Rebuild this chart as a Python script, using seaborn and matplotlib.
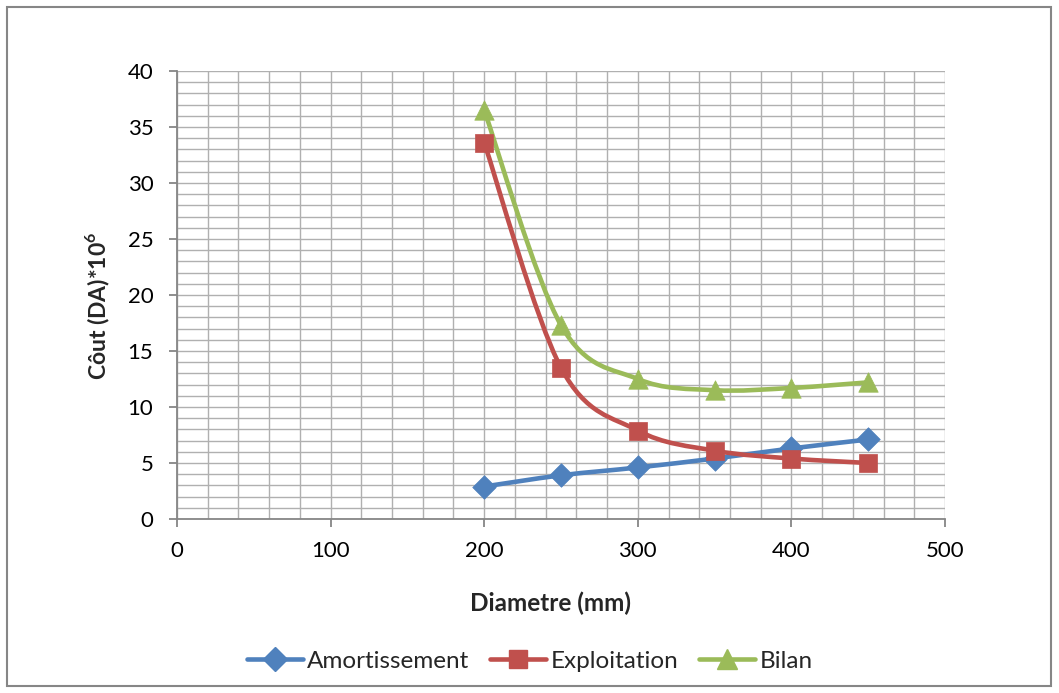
import numpy as np
import pandas as pd
import matplotlib
matplotlib.use("Agg")
import matplotlib.pyplot as plt
from matplotlib.path import Path
from matplotlib.patches import PathPatch, Rectangle
from matplotlib.lines import Line2D
import seaborn as sns

# ---- data ----
diametre = [200, 250, 300, 350, 400, 450]
amortissement = [2.9, 3.9, 4.6, 5.4, 6.3, 7.1]
exploitation = [33.6, 13.5, 7.9, 6.1, 5.4, 5.0]
bilan = [36.5, 17.3, 12.5, 11.5, 11.7, 12.2]
series_names = ["Amortissement", "Exploitation", "Bilan"]
xticks = [0, 100, 200, 300, 400, 500]
yticks = [0, 5, 10, 15, 20, 25, 30, 35, 40]

colors = ["#4F81BD", "#C0504D", "#9BBB59"]
markers = ["D", "s", "^"]
msizes = [12, 13, 14]

sns.set_theme(style="white")
plt.rcParams["font.family"] = ["Lato", "DejaVu Sans"]
plt.rcParams["mathtext.fontset"] = "custom"
plt.rcParams["mathtext.rm"] = "Lato"
plt.rcParams["mathtext.bf"] = "Lato:bold"

fig = plt.figure(figsize=(10.59, 6.93), dpi=100)
fig.patch.set_facecolor("white")
ax = fig.add_axes([177/1059, 1-519/693, (945-177)/1059, (519-71)/693])


def smooth_path(xs, ys):
    pts = np.column_stack([xs, ys]).astype(float)
    n = len(pts)
    verts = [pts[0]]
    codes = [Path.MOVETO]
    for i in range(n - 1):
        p0 = pts[i - 1] if i > 0 else pts[i]
        p1 = pts[i]
        p2 = pts[i + 1]
        p3 = pts[i + 2] if i + 2 < n else pts[i + 1]
        c1 = p1 + (p2 - p0) / 6.0
        c2 = p2 - (p3 - p1) / 6.0
        verts += [c1, c2, p2]
        codes += [Path.CURVE4] * 3
    return Path(verts, codes)


df = pd.DataFrame({"Diametre": diametre * 3,
                   "Cout": amortissement + exploitation + bilan,
                   "Serie": sum([[s] * len(diametre) for s in series_names], [])})

for name, col, mk, ms, ys in zip(series_names, colors, markers, msizes,
                                 [amortissement, exploitation, bilan]):
    patch = PathPatch(smooth_path(diametre, ys), facecolor="none",
                      edgecolor=col, lw=3.3, zorder=3, capstyle="round",
                      joinstyle="round")
    ax.add_patch(patch)
    sub = df[df["Serie"] == name]
    sns.scatterplot(data=sub, x="Diametre", y="Cout", ax=ax, marker=mk,
                    s=ms ** 2, color=col, edgecolor=col, linewidth=0.5,
                    zorder=4, legend=False)

ax.set_xlim(0, 500)
ax.set_ylim(0, 40)
ax.set_xticks(xticks)
ax.set_yticks(yticks)
ax.set_xticks(np.arange(0, 501, 20), minor=True)
ax.set_yticks(np.arange(0, 41, 1), minor=True)
ax.grid(which="both", color="#B0B0B0", lw=1.0, zorder=0)
ax.set_axisbelow(True)
for s in ["top", "right"]:
    ax.spines[s].set_visible(False)
for s in ["left", "bottom"]:
    ax.spines[s].set_color("#868686")
    ax.spines[s].set_linewidth(1.3)
ax.tick_params(which="major", direction="out", length=6, width=1.3,
               color="#868686", labelsize=16, labelcolor="black",
               left=True, bottom=True)
ax.tick_params(axis="y", pad=11)
ax.tick_params(axis="x", pad=10)
ax.tick_params(which="minor", length=0)

ax.set_xlabel("Diametre (mm)", fontsize=17.5, fontweight="bold")
ax.set_ylabel(r"Côut (DA)*10$^\mathbf{6}$", fontsize=16.5, fontweight="bold")
ax.xaxis.set_label_coords((550 - 177) / 768, -(592 - 519) / 448)
ax.yaxis.set_label_coords(-(177 - 112) / 768, (519 - 306) / 448)

handles = [Line2D([0], [0], color=c, lw=3.3, marker=m, markersize=ms,
                  markerfacecolor=c, markeredgecolor=c)
           for c, m, ms in zip(colors, markers, msizes)]
fig.legend(handles, series_names, loc="center", ncol=3,
           bbox_to_anchor=(530/1059, 1-661/693), frameon=False,
           fontsize=17.5, handlelength=2.3, handletextpad=0.2,
           columnspacing=0.85)

fig.patches.append(Rectangle((7/1059, 1-686/693), (1051-7)/1059, (686-7)/693,
                             transform=fig.transFigure, fill=False,
                             edgecolor="#868686", lw=1.5))

fig.savefig("out.png", dpi=100)
